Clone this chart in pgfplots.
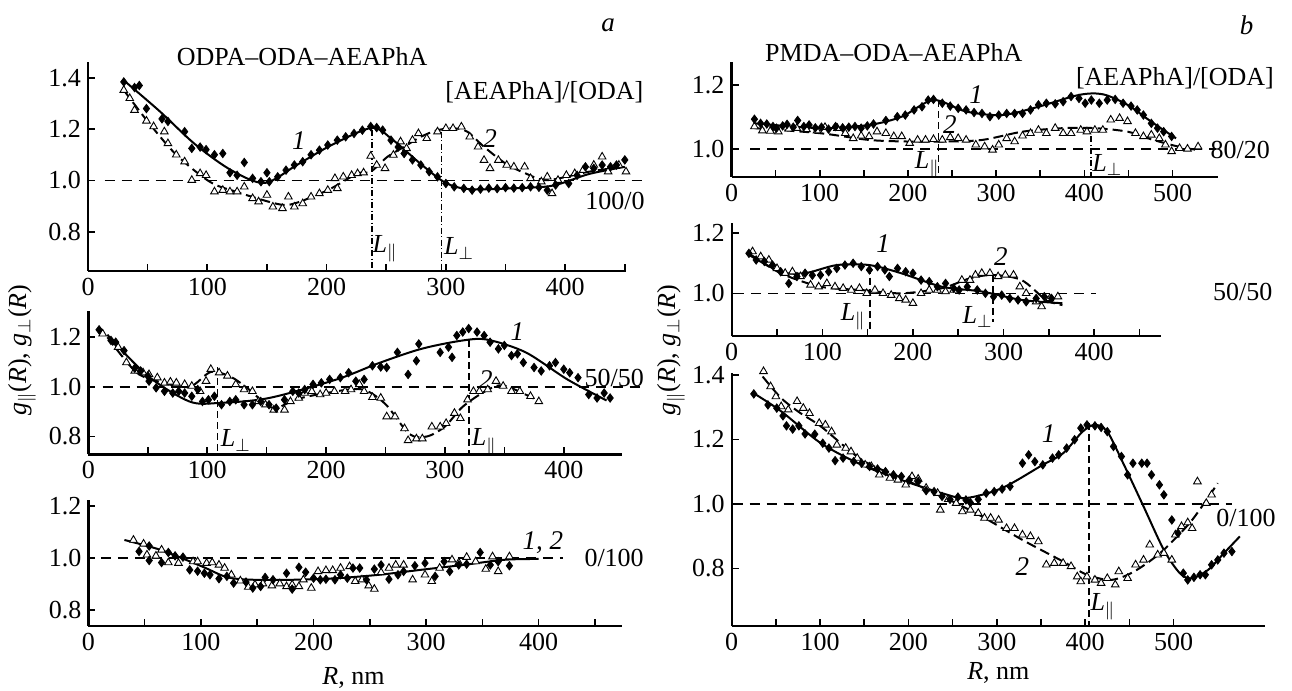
\documentclass[border=0pt]{standalone}
\usepackage{fontspec}
\setmainfont{Liberation Serif}
\usepackage{pgfplots}
\pgfplotsset{compat=1.18}

\tikzset{
  lab/.style={font=\fontsize{13}{15}\selectfont},
  num/.style={font=\fontsize{13.5}{15}\selectfont\itshape},
}
\pgfplotsset{
  panel/.style={
    scale only axis, clip=false,
    axis lines=left, axis line style={line width=1.2pt,-},
    tick align=inside, major tick length=3.5pt, minor tick length=3.5pt,
    tick style={line width=0.8pt, black},
    xmin=0, xtick={0,100,...,500}, minor x tick num=1,
    tick label style={font=\fontsize{13}{15}\selectfont},
    /pgf/number format/assume math mode=true,
    y tick label style={/pgf/number format/.cd, fixed, fixed zerofill, precision=1, /tikz/.cd},
  },
  c1/.style={black, line width=1pt, smooth, tension=0.5, mark=none},
  c2/.style={black, line width=1pt, smooth, tension=0.5, mark=none, dash pattern=on 5pt off 2.5pt},
  dmd/.style={only marks, mark=diamond*, mark size=2.1pt, black},
  tri/.style={only marks, mark=triangle*, mark size=2.2pt, black, mark options={line width=0.45pt, fill=white}},
  ref/.style={black, line width=0.7pt, dash pattern=on 5pt off 3.5pt, mark=none},
  vl/.style={black, line width=0.6pt, dash pattern=on 3pt off 1.2pt on 0.6pt off 1.2pt, mark=none},
  vd/.style={black, line width=0.7pt, dash pattern=on 3.5pt off 2pt, mark=none},
}

\begin{document}
\begin{tikzpicture}
\useasboundingbox (0,0) rectangle (646pt,-345.5pt);

% ---------------- a, 100/0 ----------------
\begin{axis}[panel, at={(44pt,-135.35pt)}, anchor=south west,
  width=269pt, height=104.4pt, xmax=451, ymin=0.648, ymax=1.462,
  ytick={0.8,1.0,1.2,1.4}]
  \addplot[ref] coordinates {(14,1) (470,1)};
  \addplot[vl] coordinates {(238,1.196) (238,0.648)};
  \addplot[vl] coordinates {(296,1.19) (296,0.648)};
  \addplot[c1] coordinates {(30,1.39) (60,1.27) (90,1.14) (120,1.04) (148,0.99) (175,1.06) (205,1.14) (238,1.205) (255,1.16) (280,1.06) (300,0.99) (320,0.966) (360,0.97) (390,0.98) (420,1.025) (450,1.053)};
  \addplot[c2] coordinates {(30,1.352) (50,1.23) (74,1.10) (102,0.995) (124,0.956) (159,0.908) (173,0.91) (201,0.962) (226,1.027) (237,1.034) (251,1.092) (265,1.131) (279,1.17) (293,1.196) (307,1.203) (318,1.19) (332,1.131) (350,1.066) (367,1.027) (385,1.001) (420,1.034) (449,1.053)};
  \addplot[tri] coordinates {(30,1.352) (35,1.32) (39,1.274) (49,1.232) (55,1.21) (64,1.19) (67,1.144) (74,1.1) (81,1.073) (87,1.001) (94,1.027) (99,1.02) (106,0.956) (113,0.962) (119,0.956) (125,0.956) (131,0.975) (138,0.93) (143,0.917) (150,0.943) (155,0.897) (163,0.891) (168,0.936) (173,0.897) (180,0.91) (187,0.936) (194,0.949) (201,0.962) (209,0.969) (207,1.008) (214,1.014) (221,1.02) (226,1.027) (231,1.03) (237,1.095) (242,1.06) (249,1.047) (256,1.099) (262,1.151) (267,1.125) (272,1.157) (277,1.183) (284,1.164) (293,1.19) (300,1.203) (306,1.203) (313,1.209) (320,1.17) (327,1.131) (332,1.079) (337,1.047) (344,1.079) (351,1.06) (357,1.053) (366,1.053) (371,1.008) (380,0.995) (385,1.014) (389,0.949) (394,1.001) (401,1.02) (408,1.027) (415,1.04) (424,1.06) (431,1.092) (436,1.034) (445,1.06) (451,1.034)};
  \addplot[dmd] coordinates {(30,1.384) (39,1.362) (43,1.37) (49,1.28) (62,1.24) (67,1.23) (81,1.19) (87,1.125) (94,1.13) (99,1.12) (106,1.10) (113,1.105) (119,1.03) (125,1.02) (131,1.07) (138,1.008) (145,0.995) (150,1.03) (152,0.995) (159,1.014) (166,1.04) (173,1.06) (180,1.073) (187,1.1) (194,1.118) (201,1.138) (209,1.157) (216,1.17) (223,1.183) (230,1.196) (237,1.21) (242,1.206) (247,1.196) (254,1.157) (260,1.13) (265,1.105) (272,1.08) (279,1.06) (286,1.034) (293,1.014) (300,0.988) (307,0.975) (315,0.969) (322,0.962) (329,0.966) (336,0.97) (343,0.968) (350,0.972) (357,0.97) (364,0.972) (371,0.975) (378,0.973) (385,0.962) (392,0.982) (403,0.988) (410,1.02) (417,1.053) (424,1.047) (431,1.06) (438,1.053) (443,1.06) (450,1.08)};
  \node[num] at (axis cs:436,1.605) {a};
  \node[lab] at (axis cs:179.5,1.484) {ODPA--ODA--AEAPhA};
  \node[lab] at (axis cs:382.6,1.343) {[AEAPhA]/[ODA]};
  \node[num] at (axis cs:176.7,1.157) {1};
  \node[num] at (axis cs:337,1.164) {2};
  \node[lab] at (axis cs:441.8,0.921) {100/0};
  \node[lab] at (axis cs:249,0.735) {\textit{L}$_{\|}$};
  \node[lab] at (axis cs:311,0.735) {\textit{L}$_{\perp}$};
\end{axis}

% ---------------- a, 50/50 ----------------
\begin{axis}[panel, at={(44.2pt,-227.15pt)}, anchor=south west,
  width=266.8pt, height=71.8pt, xmax=449, ymin=0.728, ymax=1.307,
  ytick={0.8,1.0,1.2}]
  \addplot[ref] coordinates {(12,1) (467,1)};
  \addplot[vd] coordinates {(108.7,1.078) (108.7,0.728)};
  \addplot[vd] coordinates {(320.4,1.187) (320.4,0.728)};
  \addplot[c1] coordinates {(16,1.21) (50,1.044) (85,0.941) (110,0.935) (152,0.955) (209,1.03) (244,1.095) (280,1.153) (315,1.187) (336,1.19) (368,1.139) (403,1.03) (436,0.945)};
  \addplot[c2] coordinates {(16,1.2) (40,1.06) (60,1.02) (85,1.0) (103,1.06) (120,1.04) (135,0.99) (155,0.915) (175,0.95) (200,0.975) (230,0.99) (250,0.93) (270,0.81) (285,0.8) (300,0.84) (315,0.92) (335,0.985) (350,1.005) (380,0.94)};
  \addplot[tri] coordinates {(12,1.214) (25,1.16) (32,1.098) (39,1.064) (46,1.057) (51,1.05) (58,1.037) (64,1.016) (69,1.02) (74,1.016) (81,1.01) (87,1.003) (94,0.982) (99,1.023) (103,1.071) (110,1.057) (117,1.044) (124,1.01) (131,0.989) (138,0.982) (143,0.941) (149,0.928) (156,0.907) (165,0.907) (170,0.941) (177,0.955) (182,0.975) (188,0.982) (195,0.969) (200,0.975) (207,0.982) (216,0.982) (221,0.989) (228,1.01) (232,0.982) (239,0.958) (246,0.955) (251,0.88) (258,0.88) (266,0.832) (269,0.784) (276,0.791) (281,0.791) (289,0.839) (296,0.839) (301,0.853) (308,0.894) (313,0.873) (319,0.948) (324,0.982) (329,0.982) (336,0.989) (343,1.023) (349,1.003) (356,0.982) (363,0.982) (372,0.962) (379,0.941)};
  \addplot[dmd] coordinates {(9,1.23) (19,1.187) (23,1.18) (30,1.146) (39,1.075) (44,1.064) (50,1.044) (51,1.023) (57,0.996) (64,0.982) (71,0.975) (76,0.982) (81,0.975) (87,0.962) (92,0.989) (96,0.941) (101,0.948) (106,0.962) (112,0.928) (119,0.941) (124,0.948) (131,0.928) (138,0.928) (145,0.941) (152,0.928) (158,0.914) (165,0.948) (172,0.982) (177,0.975) (182,0.989) (189,1.01) (196,1.016) (203,1.03) (212,1.037) (219,1.057) (225,1.023) (232,1.03) (239,1.085) (246,1.08) (251,1.078) (260,1.139) (269,1.05) (276,1.105) (278,1.173) (296,1.139) (303,1.16) (306,1.119) (310,1.207) (315,1.221) (320,1.235) (327,1.221) (333,1.207) (338,1.18) (345,1.153) (350,1.167) (356,1.126) (361,1.133) (366,1.098) (375,1.078) (381,1.064) (388,1.085) (393,1.098) (400,1.071) (405,1.057) (412,1.037) (421,0.969) (428,0.955) (434,0.975) (439,0.955)};
  \node[num] at (axis cs:361,1.221) {1};
  \node[num] at (axis cs:334.5,1.03) {2};
  \node[lab] at (axis cs:442.5,1.034) {50/50};
  \node[lab] at (axis cs:124,0.784) {\textit{L}$_{\perp}$};
  \node[lab] at (axis cs:333,0.777) {\textit{L}$_{\|}$};
\end{axis}

% ---------------- a, 0/100 ----------------
\begin{axis}[panel, at={(44.2pt,-312.85pt)}, anchor=south west,
  width=266.8pt, height=62.85pt, xmax=474, ymin=0.74, ymax=1.224,
  ytick={0.8,1.0,1.2}]
  \addplot[ref] coordinates {(11,1) (422,1)};
  \addplot[c1] coordinates {(32,1.07) (64,1.032) (101,0.968) (123,0.927) (146,0.917) (183,0.917) (221,0.923) (258,0.936) (295,0.955) (333,0.974) (370,0.994) (400,0.997)};
  \addplot[tri] coordinates {(40,1.07) (49,1.055) (52,1.013) (60,1.009) (65,1.032) (71,0.983) (80,0.981) (93,0.987) (97,0.987) (105,0.981) (110,0.983) (116,0.974) (121,0.962) (127,0.936) (135,0.913) (142,0.889) (148,0.898) (155,0.902) (163,0.894) (170,0.902) (176,0.891) (181,0.898) (187,0.891) (191,0.917) (198,0.885) (204,0.949) (211,0.953) (217,0.953) (224,0.962) (232,0.968) (237,0.911) (243,0.917) (249,0.894) (254,0.881) (260,0.945) (267,0.962) (273,0.974) (280,0.974) (288,0.917) (299,0.936) (305,0.911) (312,0.962) (323,0.994) (329,0.983) (336,1.004) (344,0.987) (353,0.958) (359,1.006) (364,0.949) (374,1.006)};
  \addplot[dmd] coordinates {(45,1.026) (54,1.047) (54,0.991) (65,0.983) (71,1.022) (77,1.009) (84,1.004) (90,0.955) (97,0.95) (103,0.942) (108,0.936) (116,0.921) (123,0.93) (129,0.904) (140,0.908) (146,0.885) (153,0.891) (157,0.926) (164,0.917) (176,0.942) (181,0.881) (187,0.965) (193,0.946) (200,0.923) (206,0.917) (211,0.919) (219,0.917) (224,0.936) (230,0.923) (235,0.962) (241,0.962) (247,0.917) (254,0.958) (260,0.974) (267,0.919) (275,0.936) (280,0.949) (290,0.971) (299,0.981) (308,0.93) (316,0.987) (321,0.949) (329,0.974) (336,0.977) (348,1.022) (357,0.974) (364,0.987) (374,0.971)};
  \node[num] at (axis cs:403.7,1.058) {1, 2};
  \node[lab] at (axis cs:467,1.0) {0/100};
  \node[lab] at (axis cs:235.5,0.54) {\textit{R}, nm};
\end{axis}

% ---------------- b, 80/20 ----------------
\begin{axis}[panel, at={(365.75pt,-88.35pt)}, anchor=south west,
  width=243.25pt, height=57.5pt, xmax=551.6, ymin=0.913, ymax=1.273,
  ytick={1.0,1.2}]
  \addplot[ref] coordinates {(21.5,1) (549,1)};
  \addplot[vd] coordinates {(234.9,1.153) (234.9,0.913)};
  \addplot[vl] coordinates {(407.6,1.039) (407.6,0.913)};
  \addplot[c1] coordinates {(26,1.08) (101,1.065) (156,1.075) (193,1.101) (229,1.153) (266,1.117) (307,1.106) (348,1.132) (394,1.169) (421,1.171) (449,1.138) (476,1.085) (504,1.033)};
  \addplot[c2] coordinates {(26,1.065) (101,1.049) (156,1.028) (202,1.023) (239,1.023) (284,1.028) (330,1.054) (376,1.065) (412,1.065) (449,1.054) (476,1.03) (504,1.009) (527,0.997)};
  \addplot[tri] coordinates {(26,1.07) (35,1.057) (44,1.056) (53,1.054) (65,1.063) (74,1.065) (85,1.061) (97,1.057) (106,1.068) (120,1.065) (129,1.049) (138,1.033) (147,1.041) (156,1.039) (165,1.054) (175,1.049) (184,1.039) (193,1.039) (202,1.018) (211,1.028) (220,1.028) (229,1.03) (239,1.028) (248,1.036) (257,1.033) (266,1.028) (277,1.013) (287,1.007) (296,0.997) (303,1.013) (312,1.033) (321,1.023) (330,1.041) (339,1.049) (348,1.059) (357,1.049) (367,1.065) (376,1.049) (385,1.049) (396,1.059) (403,1.054) (412,1.059) (421,1.059) (430,1.091) (440,1.096) (449,1.086) (458,1.049) (467,1.039) (476,1.044) (485,1.033) (492,1.013) (499,0.992) (508,1.002) (517,1.0) (529,1.007)};
  \addplot[dmd] coordinates {(26,1.093) (33,1.08) (40,1.078) (47,1.07) (51,1.065) (58,1.072) (63,1.077) (70,1.068) (75,1.089) (82,1.07) (88,1.075) (95,1.066) (102,1.068) (110,1.062) (118,1.07) (126,1.066) (133,1.068) (140,1.07) (147,1.065) (154,1.072) (161,1.078) (175,1.089) (188,1.101) (197,1.106) (207,1.122) (216,1.132) (223,1.153) (229,1.155) (239,1.143) (248,1.134) (257,1.127) (266,1.122) (275,1.114) (284,1.111) (293,1.101) (303,1.106) (312,1.111) (321,1.111) (330,1.111) (339,1.122) (348,1.138) (357,1.143) (367,1.141) (376,1.148) (385,1.164) (394,1.158) (401,1.143) (408,1.153) (417,1.143) (426,1.153) (435,1.155) (444,1.143) (453,1.134) (460,1.122) (467,1.106) (476,1.08) (483,1.065) (490,1.054) (499,1.039)};
  \node[num] at (axis cs:584,1.3875) {b};
  \node[lab] at (axis cs:184,1.302) {PMDA--ODA--AEAPhA};
  \node[lab] at (axis cs:502.8,1.221) {[AEAPhA]/[ODA]};
  \node[num] at (axis cs:277.4,1.169) {1};
  \node[num] at (axis cs:247.7,1.075) {2};
  \node[lab] at (axis cs:576.7,0.997) {80/20};
  \node[lab] at (axis cs:222,0.95) {\textit{L}$_{\|}$};
  \node[lab] at (axis cs:426,0.95) {\textit{L}$_{\perp}$};
\end{axis}

% ---------------- b, 50/50 ----------------
\begin{axis}[panel, at={(365.85pt,-168pt)}, anchor=south west,
  width=214.65pt, height=56.35pt, xmax=473.8, ymin=0.858, ymax=1.233,
  ytick={1.0,1.2}]
  \addplot[ref] coordinates {(3,1) (402,1)};
  \addplot[vd] coordinates {(152.6,1.089) (152.6,0.88)};
  \addplot[vd] coordinates {(288.3,1.061) (288.3,0.906)};
  \addplot[c1] coordinates {(19,1.128) (54,1.072) (81,1.067) (116,1.094) (152,1.094) (187,1.067) (232,1.022) (276,1.006) (320,0.978) (365,0.967)};
  \addplot[c2] coordinates {(19,1.133) (54,1.067) (98,1.022) (143,1.011) (187,1.0) (232,1.017) (263,1.05) (289,1.061) (320,1.044) (347,0.978) (365,0.961)};
  \addplot[tri] coordinates {(23,1.139) (32,1.122) (41,1.111) (50,1.083) (59,1.067) (67,1.072) (76,1.056) (87,1.028) (96,1.022) (105,1.033) (114,1.022) (123,1.017) (132,1.011) (141,1.017) (149,1.0) (158,1.011) (167,1.0) (176,0.994) (185,0.983) (192,0.978) (200,0.967) (209,1.0) (218,1.011) (227,1.011) (236,1.006) (245,1.011) (254,1.044) (263,1.044) (269,1.061) (276,1.067) (285,1.067) (294,1.056) (302,1.061) (311,1.061) (318,1.022) (325,1.0) (336,0.972) (342,0.956) (351,0.983) (360,0.989)};
  \addplot[dmd] coordinates {(19,1.133) (27,1.111) (36,1.106) (45,1.094) (54,1.072) (63,1.033) (72,1.056) (81,1.067) (89,1.06) (98,1.061) (107,1.072) (116,1.083) (125,1.094) (134,1.1) (143,1.089) (152,1.078) (161,1.089) (169,1.078) (174,1.056) (183,1.083) (192,1.072) (200,1.067) (209,1.044) (218,1.039) (227,1.022) (236,1.033) (245,1.017) (251,1.011) (260,1.022) (271,1.011) (280,1.0) (289,0.989) (298,0.994) (307,0.983) (316,0.978) (325,0.972) (336,0.983) (345,0.989) (353,0.983)};
  \node[num] at (axis cs:167.2,1.167) {1};
  \node[num] at (axis cs:297,1.122) {2};
  \node[lab] at (axis cs:564,1.006) {50/50};
  \node[lab] at (axis cs:134,0.922) {\textit{L}$_{\|}$};
  \node[lab] at (axis cs:271.4,0.922) {\textit{L}$_{\perp}$};
\end{axis}

% ---------------- b, 0/100 ----------------
\begin{axis}[panel, at={(365.85pt,-313pt)}, anchor=south west,
  width=266.45pt, height=126.35pt, xmax=603, ymin=0.621, ymax=1.405,
  ytick={0.8,1.0,1.2,1.4}]
  \addplot[ref] coordinates {(1,1) (566,1)};
  \addplot[vd] coordinates {(404.3,1.25) (404.3,0.621)};
  \addplot[c1] coordinates {(25,1.343) (56,1.287) (101,1.188) (147,1.121) (192,1.074) (238,1.033) (265,1.018) (306,1.049) (352,1.121) (375,1.157) (397,1.224) (411,1.245) (425,1.224) (443,1.126) (466,0.992) (489,0.857) (507,0.785) (520,0.769) (539,0.795) (557,0.847) (575,0.899)};
  \addplot[c2] coordinates {(35,1.395) (56,1.328) (78,1.281) (101,1.24) (147,1.137) (192,1.08) (238,1.023) (283,0.961) (329,0.888) (375,0.821) (402,0.78) (429,0.764) (452,0.785) (475,0.826) (493,0.868) (521,0.95) (550,1.064)};
  \addplot[tri] coordinates {(36,1.411) (44,1.364) (50,1.333) (56,1.302) (64,1.292) (74,1.318) (81,1.297) (88,1.281) (99,1.25) (106,1.245) (113,1.224) (119,1.183) (129,1.173) (135,1.162) (142,1.142) (151,1.121) (158,1.116) (167,1.09) (179,1.08) (188,1.074) (197,1.059) (204,1.085) (211,1.077) (220,1.049) (233,1.033) (236,0.981) (245,1.014) (254,1.002) (261,0.976) (270,0.981) (279,0.971) (286,0.956) (293,0.956) (302,0.95) (311,0.924) (320,0.924) (329,0.904) (338,0.899) (347,0.883) (356,0.811) (365,0.816) (375,0.816) (384,0.806) (391,0.774) (395,0.759) (402,0.774) (411,0.764) (418,0.754) (425,0.769) (434,0.749) (438,0.79) (448,0.769) (457,0.811) (466,0.826) (473,0.873) (482,0.842) (489,0.847) (498,0.826) (502,0.904) (509,0.93) (516,0.942) (521,0.924) (527,1.069) (537,1.002) (543,1.028)};
  \addplot[dmd] coordinates {(25,1.341) (41,1.307) (51,1.297) (58,1.273) (62,1.242) (69,1.232) (76,1.242) (83,1.217) (94,1.216) (103,1.188) (110,1.173) (117,1.134) (126,1.142) (138,1.131) (147,1.126) (156,1.116) (165,1.108) (174,1.1) (183,1.09) (192,1.085) (201,1.074) (211,1.069) (220,1.041) (229,1.038) (238,1.023) (247,1.014) (256,1.021) (265,1.012) (270,1.004) (279,1.014) (288,1.033) (297,1.038) (306,1.046) (315,1.054) (329,1.126) (336,1.152) (343,1.131) (352,1.121) (363,1.142) (370,1.152) (379,1.173) (388,1.199) (395,1.235) (402,1.245) (411,1.242) (418,1.237) (425,1.224) (432,1.178) (441,1.147) (448,1.09) (454,1.126) (464,1.126) (470,1.126) (475,1.09) (484,1.059) (489,1.028) (498,0.95) (505,0.909) (511,0.785) (516,0.764) (523,0.772) (530,0.78) (536,0.78) (543,0.811) (550,0.826) (557,0.847) (566,0.852)};
  \node[num] at (axis cs:358.7,1.219) {1};
  \node[num] at (axis cs:329,0.806) {2};
  \node[lab] at (axis cs:582,0.956) {0/100};
  \node[lab] at (axis cs:420,0.681) {\textit{L}$_{\|}$};
  \node[lab] at (axis cs:301.7,0.4745) {\textit{R}, nm};
\end{axis}

% y labels
\node[lab, rotate=90] at (11pt,-175pt) {\textit{g}$_{\|}$(\textit{R}), \textit{g}$_{\perp}$(\textit{R})};
\node[lab, rotate=90] at (335.5pt,-175pt) {\textit{g}$_{\|}$(\textit{R}), \textit{g}$_{\perp}$(\textit{R})};
\end{tikzpicture}
\end{document}
